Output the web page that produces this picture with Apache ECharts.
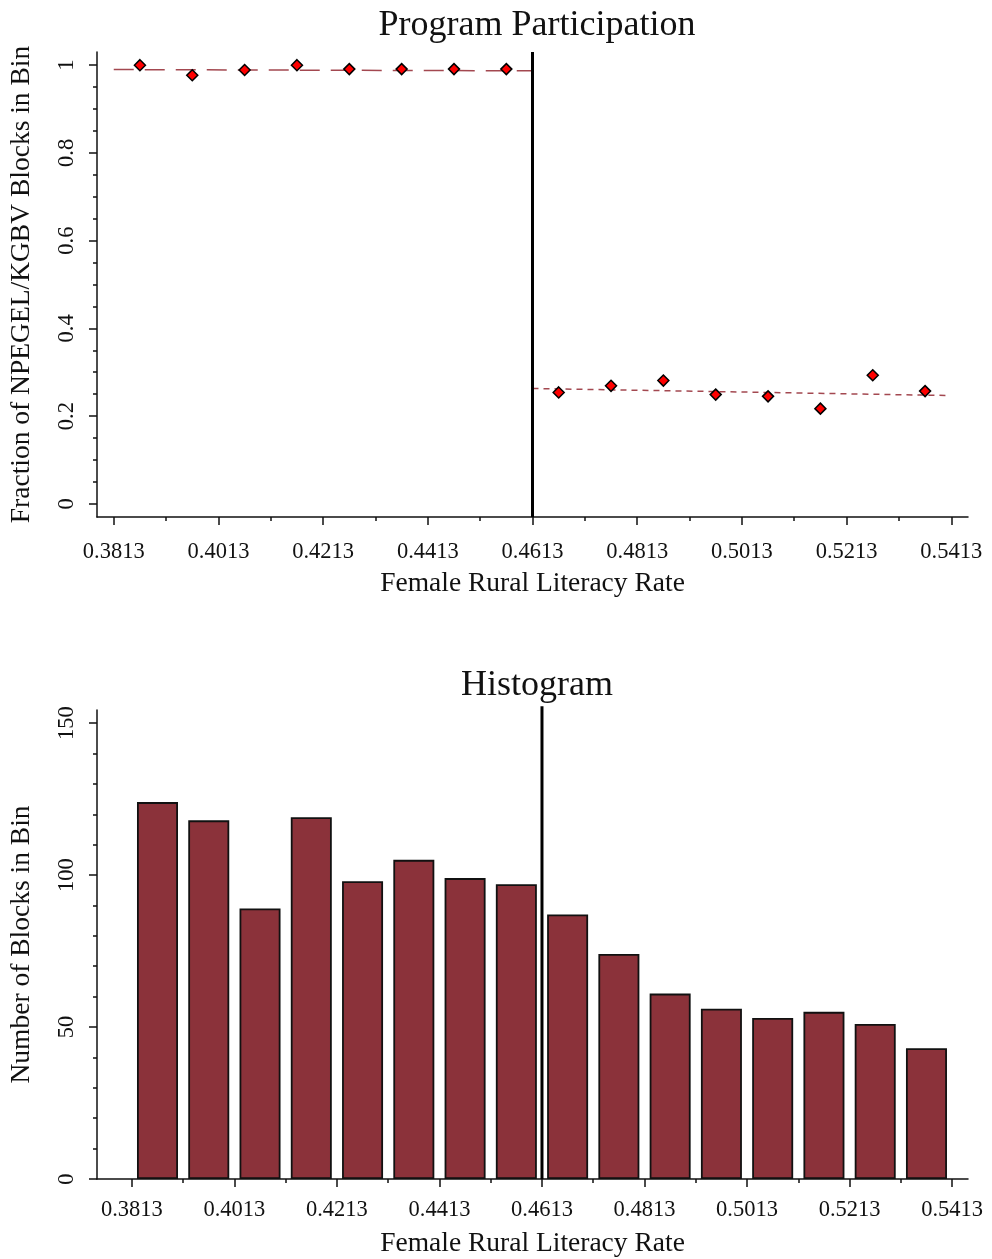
<!DOCTYPE html>
<html>
<head>
<meta charset="utf-8">
<script src="https://cdn.jsdelivr.net/npm/echarts@6/dist/echarts.min.js"></script>
<style>
  html, body { margin: 0; padding: 0; background: #fff; }
  #chart { width: 992px; height: 1259px; }
</style>
</head>
<body>
<div id="chart"></div>
<script>
// Regression-discontinuity plots around the literacy cutoff
const cutoff = 0.4613;

// Bin centres (width 0.01) below and above the cutoff
const binsBelow = [0.3863, 0.3963, 0.4063, 0.4163, 0.4263, 0.4363, 0.4463, 0.4563];
const binsAbove = [0.4663, 0.4763, 0.4863, 0.4963, 0.5063, 0.5163, 0.5263, 0.5363];

// Share of blocks in each bin that take part in NPEGEL/KGBV
const shareBelow = [1.000, 0.977, 0.989, 1.000, 0.991, 0.991, 0.991, 0.991];
const shareAbove = [0.254, 0.269, 0.281, 0.249, 0.245, 0.217, 0.293, 0.257];

// Fitted lines on each side of the cutoff
const fitBelow = [[0.3813, 0.990], [0.4613, 0.987]];
const fitAbove = [[0.4613, 0.263], [0.5403, 0.247]];

// Number of blocks per bin (all 16 bins)
const binCounts = [124, 118, 89, 119, 98, 105, 99, 97, 87, 74, 61, 56, 53, 55, 51, 43];

// Axis tick values
const xMajor = [0.3813, 0.4013, 0.4213, 0.4413, 0.4613, 0.4813, 0.5013, 0.5213, 0.5413];
const xMinor = [0.3913, 0.4113, 0.4313, 0.4513, 0.4713, 0.4913, 0.5113, 0.5313];
const shareMajor = [0, 0.2, 0.4, 0.6, 0.8, 1];
const shareMinor = [0.05, 0.1, 0.15, 0.25, 0.3, 0.35, 0.45, 0.5, 0.55, 0.65, 0.7, 0.75, 0.85, 0.9, 0.95];
const countMajor = [0, 50, 100, 150];
const countMinor = [10, 20, 30, 40, 60, 70, 80, 90, 110, 120, 130, 140];

const serif = '"Liberation Serif", "DejaVu Serif", serif';
const ink = '#111';

function majorX(gridIndex, min, max, margin, nameGap) {
  return {
    type: 'value', gridIndex, min, max, position: 'bottom',
    name: 'Female Rural Literacy Rate', nameLocation: 'middle', nameGap,
    nameTextStyle: { fontFamily: serif, fontSize: 27.5, color: ink },
    axisLine: { show: true, onZero: false, lineStyle: { color: ink, width: 1.5 } },
    axisTick: { show: true, length: 8, customValues: xMajor, lineStyle: { color: ink, width: 1.5 } },
    axisLabel: { customValues: xMajor, margin, fontFamily: serif, fontSize: 22.5, color: ink,
                 formatter: v => v.toFixed(4) },
    splitLine: { show: false }
  };
}
function minorX(gridIndex, min, max) {
  return {
    type: 'value', gridIndex, min, max, position: 'bottom',
    axisLine: { show: false, onZero: false },
    axisTick: { show: true, length: 4, customValues: xMinor, lineStyle: { color: ink, width: 1.5 } },
    axisLabel: { show: false }, splitLine: { show: false }
  };
}
function majorY(gridIndex, min, max, ticks, name, nameGap, fmt) {
  return {
    type: 'value', gridIndex, min, max, position: 'left',
    name, nameLocation: 'middle', nameGap,
    nameTextStyle: { fontFamily: serif, fontSize: 27.5, color: ink },
    axisLine: { show: true, onZero: false, lineStyle: { color: ink, width: 1.5 } },
    axisTick: { show: true, length: 8, customValues: ticks, lineStyle: { color: ink, width: 1.5 } },
    axisLabel: { customValues: ticks, rotate: 90, margin: 18, fontFamily: serif, fontSize: 22.5,
                 color: ink, formatter: fmt },
    splitLine: { show: false }
  };
}
function minorY(gridIndex, min, max, ticks) {
  return {
    type: 'value', gridIndex, min, max, position: 'left',
    axisLine: { show: false, onZero: false },
    axisTick: { show: true, length: 4, customValues: ticks, lineStyle: { color: ink, width: 1.5 } },
    axisLabel: { show: false }, splitLine: { show: false }
  };
}

const chart = echarts.init(document.getElementById('chart'), null, { renderer: 'canvas' });

chart.setOption({
  animation: false,
  backgroundColor: '#fff',
  title: [
    { text: 'Program Participation', left: 532, top: 3, textAlign: 'center',
      textStyle: { fontFamily: serif, fontSize: 36, fontWeight: 'normal', color: ink } },
    { text: 'Histogram', left: 532, top: 663, textAlign: 'center',
      textStyle: { fontFamily: serif, fontSize: 36, fontWeight: 'normal', color: ink } }
  ],
  grid: [
    { left: 95, right: 24, top: 52, height: 465, containLabel: false },
    { left: 96, right: 24, top: 710, height: 469, containLabel: false }
  ],
  xAxis: [
    majorX(0, 0.3781, 0.5445, 24, 53),
    minorX(0, 0.3781, 0.5445),
    majorX(1, 0.3745, 0.5444, 20, 51),
    minorX(1, 0.3745, 0.5444)
  ],
  yAxis: [
    majorY(0, -0.03, 1.03, shareMajor, 'Fraction of NPEGEL/KGBV Blocks in Bin', 61,
           v => (Math.abs(v - 1) < 1e-9 ? '1' : (Math.abs(v) < 1e-9 ? '0' : v.toFixed(1)))),
    minorY(0, -0.03, 1.03, shareMinor),
    majorY(1, 0, 154.3, countMajor, 'Number of Blocks in Bin', 61, v => String(Math.round(v))),
    minorY(1, 0, 154.3, countMinor)
  ],
  series: [
    {
      type: 'line', xAxisIndex: 0, yAxisIndex: 0, data: fitBelow, symbol: 'none', z: 2,
      lineStyle: { color: '#a34850', width: 1.5, type: [20, 11] }
    },
    {
      type: 'line', xAxisIndex: 0, yAxisIndex: 0, data: fitAbove, symbol: 'none', z: 2,
      lineStyle: { color: '#a34850', width: 1.5, type: [6, 5] }
    },
    {
      type: 'line', xAxisIndex: 0, yAxisIndex: 0, symbol: 'none', z: 3, clip: false,
      data: [[cutoff, -0.03], [cutoff, 1.03]],
      lineStyle: { color: '#000', width: 3 }
    },
    {
      type: 'scatter', xAxisIndex: 0, yAxisIndex: 0, z: 4,
      data: binsBelow.map((x, i) => [x, shareBelow[i]]),
      symbol: 'diamond', symbolSize: 11,
      itemStyle: { color: '#ff0000', borderColor: '#000', borderWidth: 1.5, opacity: 1 }
    },
    {
      type: 'scatter', xAxisIndex: 0, yAxisIndex: 0, z: 4,
      data: binsAbove.map((x, i) => [x, shareAbove[i]]),
      symbol: 'diamond', symbolSize: 11,
      itemStyle: { color: '#ff0000', borderColor: '#000', borderWidth: 1.5, opacity: 1 }
    },
    {
      type: 'bar', xAxisIndex: 2, yAxisIndex: 2, barWidth: 41, z: 2,
      data: binsBelow.concat(binsAbove).map((x, i) => [x, binCounts[i]]),
      itemStyle: { color: '#8b323a', borderColor: '#111', borderWidth: 1.8 }
    },
    {
      type: 'line', xAxisIndex: 2, yAxisIndex: 2, symbol: 'none', z: 3, clip: false,
      data: [[cutoff, 0], [cutoff, 155.5]],
      lineStyle: { color: '#000', width: 3 }
    }
  ]
});
</script>
</body>
</html>
